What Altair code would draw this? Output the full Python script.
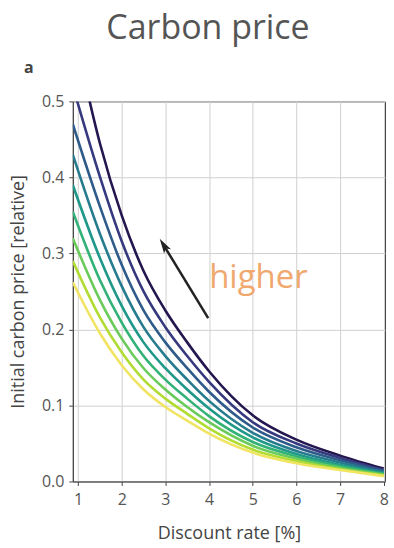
import altair as alt
import pandas as pd

# Discount rate grid [%]
x_vals = [0.88, 1.5, 2, 2.5, 3, 3.5, 4, 5, 6, 7, 8]

# Initial carbon price [relative], one list per curve (top/dark to bottom/yellow)
c1 = [0.600, 0.445, 0.350, 0.277, 0.225, 0.183, 0.145, 0.087, 0.055, 0.034, 0.017]
c2 = [0.520, 0.401, 0.316, 0.250, 0.203, 0.165, 0.131, 0.078, 0.050, 0.031, 0.015]
c3 = [0.470, 0.362, 0.285, 0.225, 0.183, 0.149, 0.118, 0.071, 0.045, 0.028, 0.014]
c4 = [0.430, 0.326, 0.257, 0.203, 0.165, 0.134, 0.106, 0.064, 0.040, 0.025, 0.012]
c5 = [0.390, 0.294, 0.231, 0.183, 0.149, 0.121, 0.096, 0.058, 0.036, 0.022, 0.011]
c6 = [0.355, 0.265, 0.209, 0.165, 0.134, 0.109, 0.086, 0.052, 0.033, 0.020, 0.010]
c7 = [0.320, 0.239, 0.188, 0.149, 0.121, 0.098, 0.078, 0.047, 0.030, 0.018, 0.009]
c8 = [0.290, 0.216, 0.170, 0.134, 0.109, 0.089, 0.070, 0.042, 0.027, 0.016, 0.008]
c9 = [0.262, 0.195, 0.153, 0.121, 0.098, 0.080, 0.063, 0.038, 0.024, 0.015, 0.007]

curves = [c1, c2, c3, c4, c5, c6, c7, c8, c9]
curve_names = [f"c{i+1}" for i in range(len(curves))]
curve_colors = ["#24164f", "#36397e", "#2f5b8b", "#277b8e", "#1f9889",
                "#33b278", "#6acb5b", "#b1dc33", "#f1e463"]

x_ticks = [1, 2, 3, 4, 5, 6, 7, 8]
y_ticks = [0.0, 0.1, 0.2, 0.3, 0.4, 0.5]

# annotation: arrow (tail -> head) and label
arrow_x = [3.98, 2.96]
arrow_y = [0.215, 0.311]
label_x = [5.13]
label_y = [0.255]
label_text = ["higher"]
panel_label = ["a"]

rows = []
for name, vals in zip(curve_names, curves):
    for xv, yv in zip(x_vals, vals):
        rows.append({"curve": name, "x": xv, "y": yv})
df = pd.DataFrame(rows)

xscale = alt.Scale(domain=[0.88, 8.03], nice=False, zero=False)
yscale = alt.Scale(domain=[0, 0.5], nice=False)

lines = alt.Chart(df).mark_line(strokeWidth=2.6, interpolate="monotone", clip=True).encode(
    x=alt.X("x:Q", scale=xscale,
            axis=alt.Axis(title="Discount rate [%]", values=x_ticks, format="d",
                          grid=True, titlePadding=17, labelPadding=6)),
    y=alt.Y("y:Q", scale=yscale,
            axis=alt.Axis(title="Initial carbon price [relative]", values=y_ticks,
                          format=".1f", grid=True, titlePadding=14, labelPadding=5)),
    color=alt.Color("curve:N", scale=alt.Scale(domain=curve_names, range=curve_colors),
                    legend=None),
    order=alt.Order("curve:N", sort="descending"),
)

arrow_df = pd.DataFrame({"x": [arrow_x[0]], "y": [arrow_y[0]],
                         "x2": [arrow_x[1]], "y2": [arrow_y[1]]})
shaft = alt.Chart(arrow_df).mark_rule(color="#222", strokeWidth=2.5).encode(
    x=alt.X("x:Q", scale=xscale), y=alt.Y("y:Q", scale=yscale),
    x2="x2:Q", y2="y2:Q")

head_df = pd.DataFrame({"x": [arrow_x[1]], "y": [arrow_y[1]]})
head = alt.Chart(head_df).mark_point(
    shape="M0,-1 L0.55,1 L0,0.55 L-0.55,1 Z", filled=True, color="#222",
    size=220, angle=328, opacity=1).encode(
    x=alt.X("x:Q", scale=xscale), y=alt.Y("y:Q", scale=yscale))

label_df = pd.DataFrame({"x": label_x, "y": label_y, "t": label_text})
label = alt.Chart(label_df).mark_text(
    font="Open Sans", fontSize=33, color="#f0a86e", align="center",
    baseline="alphabetic").encode(
    x=alt.X("x:Q", scale=xscale), y=alt.Y("y:Q", scale=yscale), text="t:N")

pl_df = pd.DataFrame({"t": panel_label})
plabel = alt.Chart(pl_df).mark_text(
    font="Open Sans", fontSize=16, fontWeight="bold", color="#444",
    align="center", baseline="middle").encode(
    x=alt.value(-44), y=alt.value(-34), text="t:N")

chart = alt.layer(lines, shaft, head, label, plabel).properties(
    width=313, height=381,
    background="white",
    title=alt.TitleParams("Carbon price", font="Open Sans", fontSize=34,
                          fontWeight="normal", color="#555", anchor="middle",
                          dx=-21, offset=14),
    padding={"left": 9, "right": 5, "top": 11, "bottom": 5},
).configure_view(stroke="#444", strokeWidth=1).configure_axis(
    domainColor="#444", tickColor="#444", tickSize=4, gridColor="#d0d0d0",
    gridWidth=1, labelFont="Open Sans", labelFontSize=16, labelColor="#555",
    titleFont="Open Sans", titleFontSize=18, titleColor="#444",
    titleFontWeight="normal",
)

chart.save("out.html", embed_options={"renderer": "svg", "actions": False})
